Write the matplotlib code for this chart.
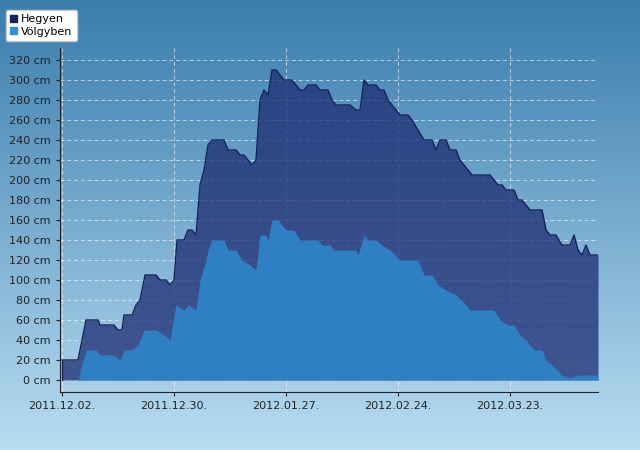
import matplotlib
matplotlib.use("Agg")
import matplotlib.pyplot as plt
import matplotlib.dates as mdates
import numpy as np
import pandas as pd

start = pd.Timestamp("2011-12-02")
h_px = [62,78,86,98,100,114,118,122,124,132,136,140,145,156,160,166,170,174,177,184,188,192,196,200,204,208,212,224,228,236,240,244,252,256,260,264,268,272,276,280,284,292,296,300,304,308,316,320,328,332,336,350,356,360,364,368,376,380,384,388,392,400,408,412,418,424,432,436,440,446,450,456,460,468,472,490,494,498,502,506,514,518,522,526,530,542,546,550,556,562,570,574,578,582,586,590,598]
h_val = [20,20,60,60,55,55,50,50,65,65,75,80,105,105,100,100,95,100,140,140,150,150,145,195,210,235,240,240,230,230,225,225,215,220,280,290,285,310,310,305,300,300,295,290,290,295,295,290,290,280,275,275,270,270,300,295,295,290,290,280,275,265,265,260,250,240,240,230,240,240,230,230,220,210,205,205,200,195,195,190,190,180,180,175,170,170,150,145,145,135,135,145,130,125,135,125,125]
v_px = [62,78,86,96,100,114,120,124,132,138,144,156,164,170,176,184,188,196,200,206,208,212,224,228,236,242,250,256,260,266,268,272,278,282,286,294,300,318,322,330,334,356,358,364,368,376,382,390,400,418,424,432,438,446,456,466,470,494,500,508,514,520,526,534,542,546,552,562,570,578,598]
v_val = [0,0,30,30,25,25,20,30,30,35,50,50,45,40,75,70,75,70,100,120,130,140,140,130,130,120,115,110,145,145,140,160,160,155,150,150,140,140,135,135,130,130,125,145,140,140,135,130,120,120,105,105,95,90,85,75,70,70,60,55,55,45,40,30,30,20,15,5,2,5,5]

h_dates = [start + pd.Timedelta(days=(x-62)/4) for x in h_px]
v_dates = [start + pd.Timedelta(days=(x-62)/4) for x in v_px]

fig = plt.figure(figsize=(6.4, 4.5), dpi=100)
bg = fig.add_axes([0, 0, 1, 1])
grad = np.linspace(0, 1, 256).reshape(-1, 1)
from matplotlib.colors import LinearSegmentedColormap
cm = LinearSegmentedColormap.from_list("g", ["#3a7dad", "#b9ddf2"])
bg.imshow(grad, aspect="auto", cmap=cm, extent=[0, 1, 0, 1], origin="upper")
bg.axis("off")

ax = fig.add_axes([60/640, 58/450, 538/640, 344/450])
ax.patch.set_alpha(0)
ax.fill_between(h_dates, 0, h_val, color="#1c2c72", alpha=0.75, lw=0, zorder=2)
ax.plot(h_dates, h_val, color="#15225a", lw=1, zorder=3)
ax.fill_between(v_dates, 0, v_val, color="#2f7fc3", lw=0, zorder=4)
ax.plot([start, start], [0, 20], color="#15225a", lw=1, zorder=5)

ax.set_xlim(start - pd.Timedelta(days=0.5), start + pd.Timedelta(days=134))
ax.set_ylim(-12, 332)
ax.set_yticks(range(0, 321, 20))
ax.set_yticklabels([f"{v} cm" for v in range(0, 321, 20)], fontsize=8, color="#222222")
ticks = [start + pd.Timedelta(days=28*i) for i in range(5)]
ax.set_xticks(ticks)
ax.set_xticklabels([t.strftime("%Y.%m.%d.") for t in ticks], fontsize=8, color="#222222")
ax.grid(True, color="white", ls=(0, (4, 3)), lw=0.7, alpha=0.6, zorder=1)
for s in ["top", "right"]:
    ax.spines[s].set_visible(False)
ax.spines["left"].set_color("#222222")
ax.spines["bottom"].set_color("#222222")
ax.tick_params(length=3, colors="#222222")

from matplotlib.patches import Patch
leg = fig.legend(handles=[Patch(color="#15225a", label="Hegyen"), Patch(color="#2f8fd8", label="Völgyben")],
                 loc="upper left", bbox_to_anchor=(0.0, 0.99), fontsize=8, frameon=True,
                 fancybox=True, handlelength=0.6, handleheight=0.6, handletextpad=0.4,
                 borderpad=0.4, labelspacing=0.2)
leg.get_frame().set_facecolor("white")
leg.get_frame().set_alpha(1)
fig.savefig("out.png", dpi=100)
